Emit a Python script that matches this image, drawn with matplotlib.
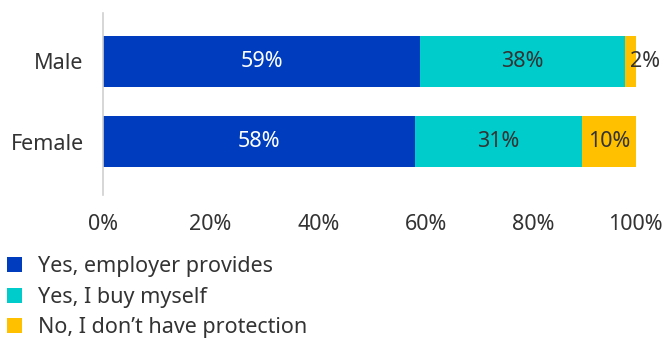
import matplotlib
matplotlib.use("Agg")
import matplotlib.pyplot as plt
from matplotlib.patches import Patch
from matplotlib.transforms import ScaledTranslation

plt.rcParams['font.family'] = ['Noto Sans', 'DejaVu Sans']

groups = ["Female", "Male"]
series_names = ["Yes, employer provides", "Yes, I buy myself", "No, I don\u2019t have protection"]
employer = [58, 59]
self_buy = [31, 38]
none_ = [10, 2]
colors = ["#003DBE", "#00CCCC", "#FFC000"]
label_colors = ["white", "#333333", "#333333"]
x_ticks = [0, 20, 40, 60, 80, 100]

FS = 15.5

fig = plt.figure(figsize=(6.65, 3.38), dpi=100)
ax = fig.add_axes([103 / 665, 1 - 194.5 / 338, 538 / 665, 182 / 338])

ypos = list(range(len(groups)))
left = [0] * len(groups)
for vals, col, lc in zip([employer, self_buy, none_], colors, label_colors):
    ax.barh(ypos, vals, left=left, height=0.64, color=col, edgecolor="none")
    for y, v, l in zip(ypos, vals, left):
        if v < 5:
            # narrow segment: start the label just inside it and let it run past
            ax.text(l, y, f"{v}%", ha="left", va="center", color=lc, fontsize=FS,
                    transform=ax.transData + ScaledTranslation(5 / 100, 0, fig.dpi_scale_trans))
        else:
            ax.text(l + v / 2, y, f"{v}%", ha="center", va="center",
                    color=lc, fontsize=FS)
    left = [a + b for a, b in zip(left, vals)]

ax.set_xlim(0, 100)
ax.set_ylim(-0.66, 1.61)
ax.set_yticks(ypos)
ax.set_yticklabels(groups, fontsize=FS, color="#333333")
ax.set_xticks(x_ticks)
ax.set_xticklabels([f"{t}%" for t in x_ticks], fontsize=FS, color="#333333")
ax.tick_params(axis="y", length=0, pad=14)
ax.tick_params(axis="x", length=0, pad=14)
# keep the last tick label inside the figure
last = ax.get_xticklabels()[-1]
last.set_transform(last.get_transform() + ScaledTranslation(-6 / 100, 0, fig.dpi_scale_trans))
for s in ["top", "right", "bottom"]:
    ax.spines[s].set_visible(False)
ax.spines["left"].set_color("#D0D0D0")
ax.spines["left"].set_linewidth(1.2)

handles = [Patch(facecolor=c, edgecolor="none") for c in colors]
fig.legend(handles, series_names, loc="upper left", bbox_to_anchor=(7 / 665, 1 - 256 / 338),
           frameon=False, fontsize=FS, handlelength=0.7, handleheight=0.7,
           handletextpad=0.75, labelspacing=0.45, borderaxespad=0, borderpad=0,
           labelcolor="#333333")

fig.savefig("out.png", dpi=100)
